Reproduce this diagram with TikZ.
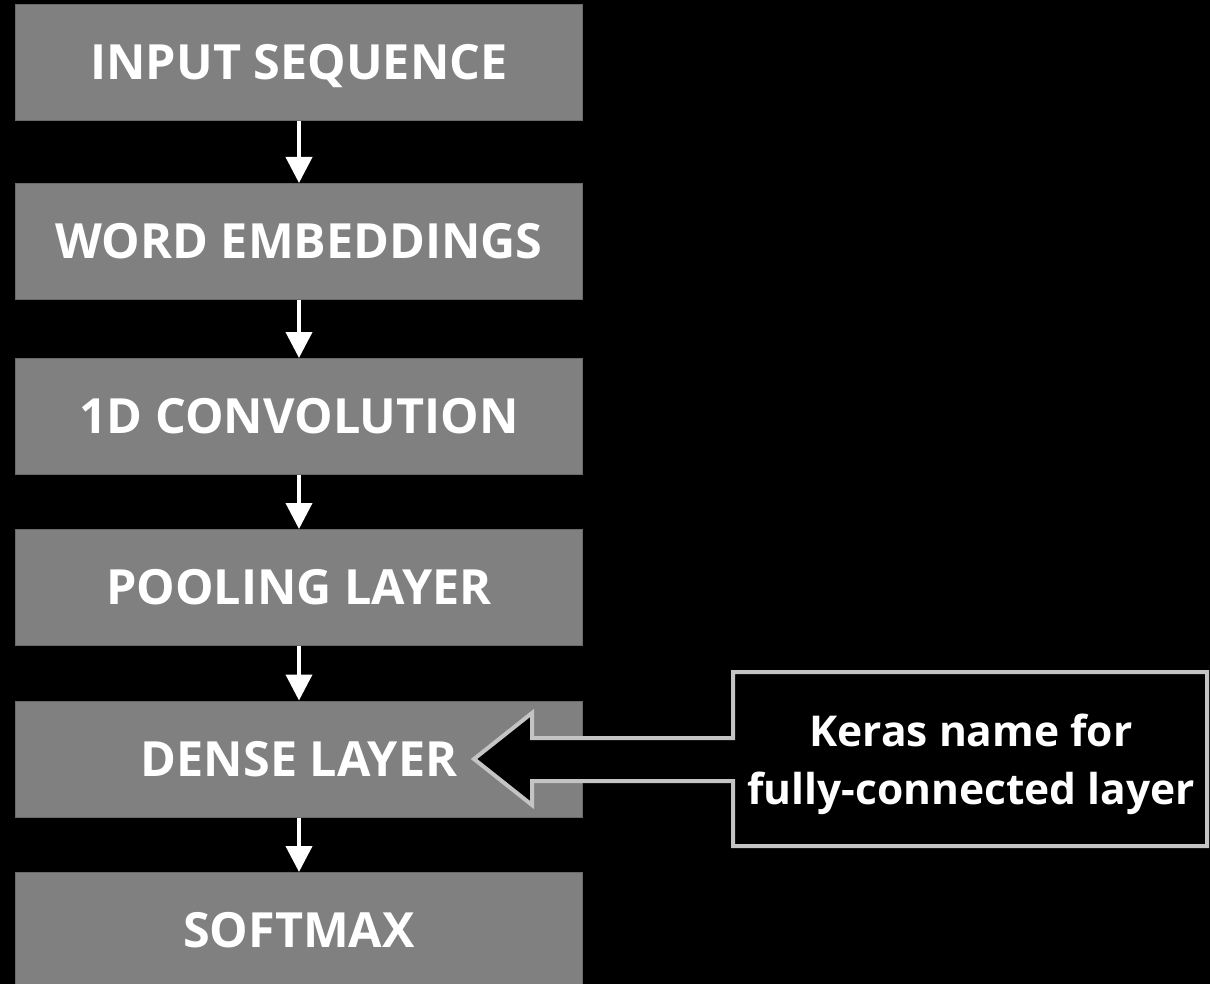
\documentclass[tikz,border=0pt]{standalone}
\usepackage{fontspec}
\setmainfont{Open Sans}
\usetikzlibrary{arrows.meta}
\definecolor{boxgray}{HTML}{808080}
\definecolor{boxedge}{HTML}{6A6A6A}
\definecolor{noteedge}{HTML}{C4C4C4}
\tikzset{
  layer/.style={fill=boxgray, draw=boxedge, line width=1pt,
    minimum width=567pt, minimum height=116pt, inner sep=0pt,
    text height=34pt, text depth=0pt,
    text=white, font=\fontsize{48.5}{58}\selectfont\bfseries},
  flow/.style={draw=white, line width=4pt,
    -{Triangle[width=26pt,length=26pt]}, shorten >=0pt},
  notetext/.style={text=white, align=center, inner sep=0pt,
    font=\fontsize{42.5}{58}\selectfont\bfseries}
}
\begin{document}
\begin{tikzpicture}[x=1pt,y=-1pt]
  % canvas
  \fill[black] (0,0) rectangle (1210,984);
  \useasboundingbox (0,0) rectangle (1210,984);

  % layer stack
  \node[layer] (input) at (299,62.5) {INPUT SEQUENCE};
  \node[layer] (embed) at (299,241.5) {WORD EMBEDDINGS};
  \node[layer] (conv)  at (299,416.5) {1D CONVOLUTION};
  \node[layer] (pool)  at (299,587.5) {POOLING LAYER};
  \node[layer] (dense) at (299,759) {DENSE LAYER};
  \node[layer] (soft)  at (299,930.5) {SOFTMAX};

  % connectors between layers
  \draw[flow] (input.south) -- (embed.north);
  \draw[flow] (embed.south) -- (conv.north);
  \draw[flow] (conv.south)  -- (pool.north);
  \draw[flow] (pool.south)  -- (dense.north);
  \draw[flow] (dense.south) -- (soft.north);

  % callout box with block-arrow pointer
  \draw[noteedge, fill=black, line width=4pt, line join=miter]
    (733,672) -- (1207,672) -- (1207,846) -- (733,846) -- (733,781)
    -- (532,781) -- (532,805) -- (474,759) -- (532,713) -- (532,738)
    -- (733,738) -- cycle;
  \node[notetext] (note) at (971,764) {Keras name for\\fully-connected layer};
\end{tikzpicture}
\end{document}
